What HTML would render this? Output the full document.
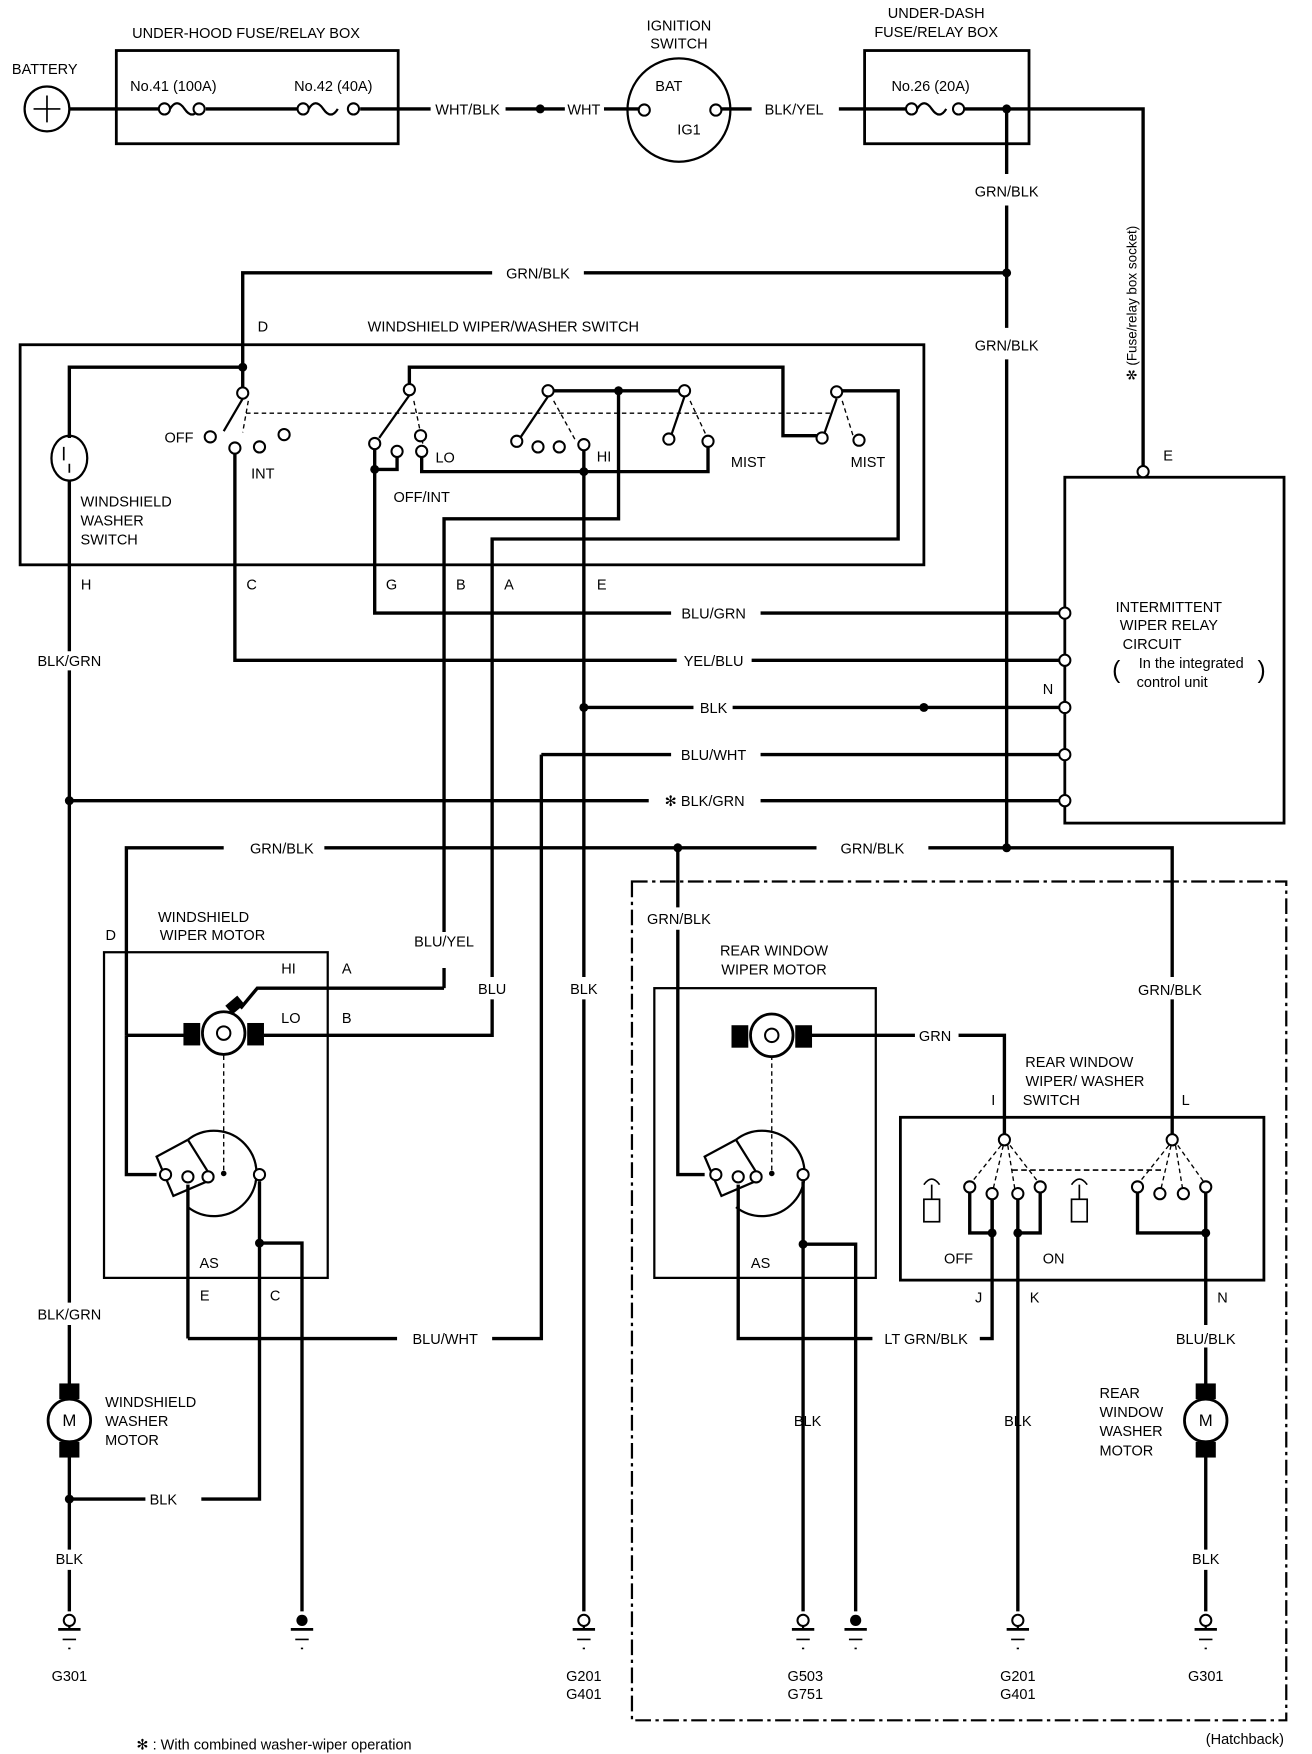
<!DOCTYPE html>
<html><head><meta charset="utf-8"><style>
html,body{margin:0;padding:0;background:#fff}
svg{display:block}
text{font-family:"Liberation Sans Narrow","Liberation Sans",sans-serif;font-size:13px;fill:#000;text-anchor:middle}
.l{text-anchor:start}
</style></head><body>
<svg width="1312" height="1754" viewBox="0 0 1173 1562" preserveAspectRatio="none" xmlns="http://www.w3.org/2000/svg">
<g fill="none" stroke="#000" stroke-width="3">
<circle cx="42" cy="97" r="20" stroke-width="2"/>
<path d="M30 97h24M42 85v24" stroke-width="1.5"/>
<path d="M62 97H142M184 97H266M322 97H385M452 97H505M540 97H571M645 97H672M750 97H810M862 97H1022V415"/>
<path d="M152 97q6-10 13 0t13 0M276 97q6-10 13 0t13 0M820 97q6-10 13 0t13 0" stroke-width="2"/>
<rect x="104" y="45" width="252" height="83" stroke-width="2.5"/>
<rect x="773" y="45" width="147" height="83" stroke-width="2.5"/>
<circle cx="607" cy="98" r="46" stroke-width="2"/>
<path d="M900 97V155M900 183V292M900 320V755"/>
<path d="M217 327V243H440M522 243H900"/>
<rect x="18" y="307" width="808" height="196" stroke-width="2.5"/>
<path d="M62 390V327H217V345"/>
<path d="M62 427V580M62 597V713V1160M62 1180V1245M62 1285V1380M62 1398V1435"/>
<ellipse cx="62" cy="408" rx="16" ry="20" stroke-width="2"/>
<path d="M57 398v12M62 413v8" stroke-width="1.5"/>
<path d="M217 355L200 384" stroke-width="2"/>
<path d="M210 404V588H605M672 588H947"/>
<path d="M366 342V327H700V388H730"/>
<path d="M366 352L339 390" stroke-width="2"/>
<path d="M335 400V546H600M680 546H947"/>
<path d="M355 407V418H335"/>
<path d="M377 407V420H633V398"/>
<path d="M495 348H607"/>
<path d="M490 353L465 390" stroke-width="2"/>
<path d="M553 348V462H397V830M397 880V862"/>
<path d="M522 401V870M522 890V1435"/>
<path d="M522 630H620M655 630H947M484 672V1192H440M484 672H600M680 672H947"/>
<path d="M168 1192H355M62 713H580M680 713H947"/>
<path d="M612 353L600 388" stroke-width="2"/>
<path d="M748 355L737 386" stroke-width="2"/>
<path d="M753 348H803V480H440V870M440 890V922H236"/>
<path d="M220 368H745" stroke-width="1.2" stroke-dasharray="4 3"/>
<path d="M222 357l-5 28M370 357l8 38M495 357l20 36M617 357l15 32M753 357l10 32" stroke-width="1.2" stroke-dasharray="4 3"/>
<rect x="952" y="425" width="196" height="308" stroke-width="2.5"/>
<path d="M113 922V755H200M290 755H730M830 755H1048V870M1048 890V1010"/>
<path d="M606 755V808M606 828V1046H630"/>
<rect x="93" y="848" width="200" height="290" stroke-width="2"/>
<path d="M113 922H165M113 922V1046H140"/>
<circle cx="200" cy="920" r="19" stroke-width="2.5"/>
<path d="M215 898L230 880H397"/>
<path d="M200 940V1045" stroke-width="1.2" stroke-dasharray="4 3"/>
<path d="M168 1015A38 38 0 1 1 168 1075" stroke-width="2"/>
<path d="M168 1015L140 1030L155 1065L190 1050L168 1015" stroke-width="2"/>
<path d="M168 1055V1192M232 1052V1335H180M130 1335H62M232 1107H270V1435"/>
<circle cx="62" cy="1265" r="19" stroke-width="2.5"/>
<circle cx="1078" cy="1265" r="19" stroke-width="2.5"/>
<rect x="585" y="880" width="198" height="258" stroke-width="2"/>
<circle cx="690" cy="922" r="19" stroke-width="2.5"/>
<path d="M720 922H818M857 922H898V1010"/>
<path d="M690 940V1045" stroke-width="1.2" stroke-dasharray="4 3"/>
<path d="M658 1015A38 38 0 1 1 658 1075" stroke-width="2"/>
<path d="M658 1015L630 1030L645 1065L680 1050L658 1015" stroke-width="2"/>
<path d="M660 1055V1192H780M718 1052V1435M718 1108H765V1435"/>
<path d="M876 1192H887V1063"/>
<rect x="805" y="995" width="325" height="145" stroke-width="2.5"/>
<path d="M887 1063V1098H867V1060M910 1063V1435M910 1098H930V1060"/>
<path d="M1017 1060V1098H1078M1078 1060V1180M1078 1200V1245M1078 1285V1380M1078 1398V1435"/>
<path d="M905 1042H1040" stroke-width="1.5" stroke-dasharray="5 3"/>
<path d="M895 1020l-28 35M897 1020l-10 43M901 1020l7 43M903 1020l27 35M1045 1020l-28 35M1047 1020l-10 43M1051 1020l7 43M1053 1020l25 35" stroke-width="1.2" stroke-dasharray="4 3"/>
<rect x="826" y="1068" width="14" height="20" stroke-width="1.5"/>
<rect x="958" y="1068" width="14" height="20" stroke-width="1.5"/>
<path d="M833 1068V1055M826 1055q7-10 14 0M965 1068V1055M958 1055q7-10 14 0" stroke-width="1.5"/>
<rect x="565" y="785" width="585" height="747" stroke-width="2" stroke-dasharray="14 4 3 4"/>
<path d="M62 1440v10M522 1440v10M718 1440v10M910 1440v10M1078 1440v10" stroke-width="2"/>
<path d="M52 1451h20M512 1451h20M708 1451h20M900 1451h20M1068 1451h20M260 1451h20M755 1451h20" stroke-width="2.5"/>
<path d="M56 1460h12M516 1460h12M712 1460h12M904 1460h12M1072 1460h12M264 1460h12M759 1460h12" stroke-width="1.5"/>
<path d="M61 1468h2M521 1468h2M717 1468h2M909 1468h2M1077 1468h2M269 1468h2M764 1468h2" stroke-width="1.5"/>
</g>
<g fill="#fff" stroke="#000" stroke-width="1.8">
<circle cx="147" cy="97" r="5"/><circle cx="178" cy="97" r="5"/>
<circle cx="271" cy="97" r="5"/><circle cx="316" cy="97" r="5"/>
<circle cx="815" cy="97" r="5"/><circle cx="857" cy="97" r="5"/>
<circle cx="576" cy="98" r="5"/><circle cx="640" cy="98" r="5"/>
<circle cx="1022" cy="420" r="5"/>
<circle cx="217" cy="350" r="5"/><circle cx="188" cy="389" r="5"/><circle cx="210" cy="399" r="5"/><circle cx="232" cy="398" r="5"/><circle cx="254" cy="387" r="5"/>
<circle cx="366" cy="347" r="5"/><circle cx="335" cy="395" r="5"/><circle cx="355" cy="402" r="5"/><circle cx="377" cy="402" r="5"/><circle cx="376" cy="388" r="5"/>
<circle cx="490" cy="348" r="5"/><circle cx="462" cy="393" r="5"/><circle cx="481" cy="398" r="5"/><circle cx="500" cy="398" r="5"/><circle cx="522" cy="396" r="5"/>
<circle cx="612" cy="348" r="5"/><circle cx="598" cy="391" r="5"/><circle cx="633" cy="393" r="5"/>
<circle cx="748" cy="349" r="5"/><circle cx="735" cy="390" r="5"/><circle cx="768" cy="392" r="5"/>
<circle cx="952" cy="546" r="5"/><circle cx="952" cy="588" r="5"/><circle cx="952" cy="630" r="5"/><circle cx="952" cy="672" r="5"/><circle cx="952" cy="713" r="5"/>
<circle cx="148" cy="1046" r="5"/><circle cx="168" cy="1048" r="5"/><circle cx="186" cy="1048" r="5"/><circle cx="232" cy="1046" r="5"/>
<circle cx="640" cy="1046" r="5"/><circle cx="660" cy="1048" r="5"/><circle cx="676" cy="1048" r="5"/><circle cx="718" cy="1046" r="5"/>
<circle cx="898" cy="1015" r="5"/><circle cx="867" cy="1057" r="5"/><circle cx="887" cy="1063" r="5"/><circle cx="910" cy="1063" r="5"/><circle cx="930" cy="1057" r="5"/>
<circle cx="1048" cy="1015" r="5"/><circle cx="1017" cy="1057" r="5"/><circle cx="1037" cy="1063" r="5"/><circle cx="1058" cy="1063" r="5"/><circle cx="1078" cy="1057" r="5"/>
<circle cx="62" cy="1443" r="5"/><circle cx="522" cy="1443" r="5"/><circle cx="718" cy="1443" r="5"/><circle cx="910" cy="1443" r="5"/><circle cx="1078" cy="1443" r="5"/>
<circle cx="200" cy="920" r="6"/><circle cx="690" cy="922" r="6"/>
</g>
<g fill="#000">
<circle cx="483" cy="97" r="4"/><circle cx="900" cy="97" r="4"/><circle cx="900" cy="243" r="4"/><circle cx="217" cy="327" r="4"/>
<circle cx="553" cy="348" r="4"/><circle cx="522" cy="420" r="4"/><circle cx="335" cy="418" r="4"/>
<circle cx="522" cy="630" r="4"/><circle cx="826" cy="630" r="4"/><circle cx="62" cy="713" r="4"/>
<circle cx="900" cy="755" r="4"/><circle cx="606" cy="755" r="4"/>
<circle cx="232" cy="1107" r="4"/><circle cx="718" cy="1108" r="4"/><circle cx="62" cy="1335" r="4"/>
<circle cx="887" cy="1098" r="4"/><circle cx="910" cy="1098" r="4"/><circle cx="1078" cy="1098" r="4"/>
<circle cx="270" cy="1443" r="5"/><circle cx="765" cy="1443" r="5"/>
<circle cx="200" cy="1045" r="2.5"/><circle cx="690" cy="1045" r="2.5"/>
<rect x="164" y="911" width="15" height="20"/><rect x="221" y="911" width="15" height="20"/>
<rect x="654" y="913" width="15" height="20"/><rect x="711" y="913" width="15" height="20"/>
<rect x="203" y="890" width="14" height="10" transform="rotate(-40 210 895)"/>
<rect x="53" y="1232" width="18" height="14"/><rect x="53" y="1284" width="18" height="14"/>
<rect x="1069" y="1232" width="18" height="14"/><rect x="1069" y="1284" width="18" height="14"/>
</g>
<text x="40" y="66">BATTERY</text>
<text x="220" y="34">UNDER-HOOD FUSE/RELAY BOX</text>
<text x="155" y="81">No.41 (100A)</text>
<text x="298" y="81">No.42 (40A)</text>
<text x="418" y="102">WHT/BLK</text>
<text x="522" y="102">WHT</text>
<text x="607" y="27">IGNITION</text><text x="607" y="43">SWITCH</text>
<text x="598" y="81">BAT</text><text x="616" y="120">IG1</text>
<text x="710" y="102">BLK/YEL</text>
<text x="837" y="16">UNDER-DASH</text><text x="837" y="33">FUSE/RELAY BOX</text>
<text x="832" y="81">No.26 (20A)</text>
<text x="900" y="175">GRN/BLK</text>
<text x="900" y="312">GRN/BLK</text>
<text x="481" y="248">GRN/BLK</text>
<text x="1016" y="270" transform="rotate(-90 1016 270)" style="font-size:12px">✻ (Fuse/relay box socket)</text>
<text x="235" y="295">D</text>
<text x="450" y="295">WINDSHIELD WIPER/WASHER SWITCH</text>
<text x="160" y="394">OFF</text>
<text x="235" y="426">INT</text>
<text x="398" y="412">LO</text>
<text x="540" y="411">HI</text>
<text x="669" y="416">MIST</text>
<text x="776" y="416">MIST</text>
<text x="377" y="447">OFF/INT</text>
<text class="l" x="72" y="451">WINDSHIELD</text>
<text class="l" x="72" y="468">WASHER</text>
<text class="l" x="72" y="485">SWITCH</text>
<text class="l" x="1040" y="410">E</text>
<text x="77" y="525">H</text><text x="225" y="525">C</text><text x="350" y="525">G</text><text x="412" y="525">B</text><text x="455" y="525">A</text><text x="538" y="525">E</text>
<text x="638" y="551">BLU/GRN</text>
<text x="638" y="593">YEL/BLU</text>
<text x="638" y="635">BLK</text>
<text x="937" y="618">N</text>
<text x="638" y="677">BLU/WHT</text>
<text x="630" y="718">✻ BLK/GRN</text>
<text x="62" y="593">BLK/GRN</text>
<text x="1045" y="545">INTERMITTENT</text>
<text x="1045" y="561">WIPER RELAY</text>
<text x="1030" y="578">CIRCUIT</text>
<text x="1065" y="595">In the integrated</text>
<text x="1048" y="612">control unit</text>
<text x="998" y="604" style="font-size:22px">(</text><text x="1128" y="604" style="font-size:22px">)</text>
<text x="252" y="760">GRN/BLK</text>
<text x="780" y="760">GRN/BLK</text>
<text x="607" y="823">GRN/BLK</text>
<text x="1046" y="886">GRN/BLK</text>
<text x="99" y="837">D</text>
<text x="182" y="821">WINDSHIELD</text><text x="190" y="837">WIPER MOTOR</text>
<text x="258" y="867">HI</text><text x="310" y="867">A</text>
<text x="260" y="911">LO</text><text x="310" y="911">B</text>
<text x="397" y="843">BLU/YEL</text>
<text x="440" y="885">BLU</text>
<text x="522" y="885">BLK</text>
<text x="692" y="851">REAR WINDOW</text><text x="692" y="868">WIPER MOTOR</text>
<text x="836" y="927">GRN</text>
<text x="965" y="950">REAR WINDOW</text><text x="970" y="967">WIPER/ WASHER</text><text x="940" y="984">SWITCH</text>
<text x="888" y="984">I</text><text x="1060" y="984">L</text>
<text x="187" y="1129">AS</text><text x="183" y="1158">E</text><text x="246" y="1158">C</text>
<text x="680" y="1129">AS</text>
<text x="857" y="1125">OFF</text><text x="942" y="1125">ON</text>
<text x="875" y="1160">J</text><text x="925" y="1160">K</text><text x="1093" y="1160">N</text>
<text x="62" y="1175">BLK/GRN</text>
<text x="398" y="1197">BLU/WHT</text>
<text x="828" y="1197">LT GRN/BLK</text>
<text x="1078" y="1197">BLU/BLK</text>
<text x="62" y="1270" style="font-size:15px">M</text>
<text x="1078" y="1270" style="font-size:15px">M</text>
<text class="l" x="94" y="1253">WINDSHIELD</text><text class="l" x="94" y="1270">WASHER</text><text class="l" x="94" y="1287">MOTOR</text>
<text class="l" x="983" y="1245">REAR</text><text class="l" x="983" y="1262">WINDOW</text><text class="l" x="983" y="1279">WASHER</text><text class="l" x="983" y="1296">MOTOR</text>
<text x="146" y="1340">BLK</text>
<text x="722" y="1270">BLK</text><text x="910" y="1270">BLK</text>
<text x="62" y="1393">BLK</text><text x="1078" y="1393">BLK</text>
<text x="62" y="1497">G301</text>
<text x="522" y="1497">G201</text><text x="522" y="1513">G401</text>
<text x="720" y="1497">G503</text><text x="720" y="1513">G751</text>
<text x="910" y="1497">G201</text><text x="910" y="1513">G401</text>
<text x="1078" y="1497">G301</text>
<text x="245" y="1558">✻ : With combined washer-wiper operation</text>
<text x="1113" y="1553">(Hatchback)</text>
</svg>
</body></html>
